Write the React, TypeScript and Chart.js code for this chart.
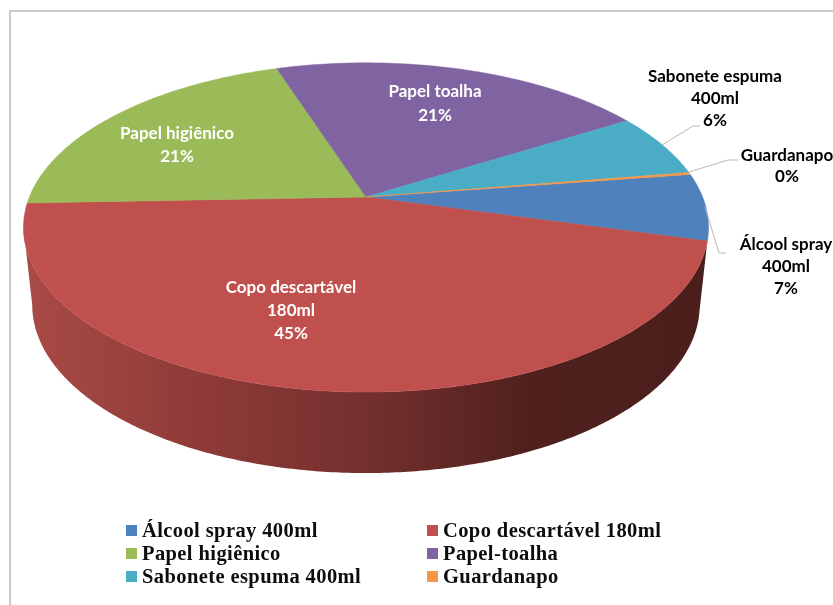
import React, { useEffect, useRef } from "react";
import { Chart, registerables } from "chart.js";

Chart.register(...registerables);

const categories = [
  "Álcool spray 400ml",
  "Copo descartável 180ml",
  "Papel higiênico",
  "Papel-toalha",
  "Sabonete espuma 400ml",
  "Guardanapo",
];
const shares = [6.6, 45.3, 20.6, 21.3, 6.3, 0.2];
const sliceColors = ["#4f81bd", "#c0504d", "#9bbb59", "#8064a2", "#4bacc6", "#f79646"];

// Text lines of each slice caption; the percentage is appended from the data.
const captionLines = [
  ["Álcool spray", "400ml"],
  ["Copo descartável", "180ml"],
  ["Papel higiênico"],
  ["Papel toalha"],
  ["Sabonete espuma", "400ml"],
  ["Guardanapo"],
];
const captionColors = ["#000", "#fff", "#fff", "#fff", "#000", "#000"];
const captionCenters = [
  [786, 245],
  [291, 288],
  [177, 134],
  [435, 92],
  [715, 77],
  [787, 156],
];
const captionLineHeights = [22, 23, 23, 24, 22, 21];
const leaderLines = [
  { slice: 0, points: [[705, 207], [719, 253], [726, 253]] },
  { slice: 4, points: [[662, 145], [693, 126], [700, 126]] },
  { slice: 5, points: [[689, 172], [728, 160], [738, 160]] },
];

const legendColumns = [126, 427];
const legendRows = [530, 553, 576];

// Perspective disc: top face and the lower rim of the pie.
const TILT = 0.185;
const topFace = { cx: 366, cy: 197, rx: 336.6, ry: 159 };
const rimFace = { cx: 366, cy: 273.9, rx: 328, ry: 162.3 };
const WALL_FROM = (15 * Math.PI) / 180;
const WALL_TO = Math.PI - Math.asin(TILT);

type Face = typeof topFace;

function project(face: Face, angle: number): [number, number] {
  const x = Math.cos(angle);
  const y = Math.sin(angle);
  const w = 1 - TILT * y;
  return [face.cx + (face.rx * x) / w, face.cy + (face.ry * y) / w];
}

function arcPoints(face: Face, from: number, to: number): [number, number][] {
  const steps = Math.max(2, Math.ceil(Math.abs(to - from) / 0.01));
  const pts: [number, number][] = [];
  for (let i = 0; i <= steps; i++) {
    pts.push(project(face, from + ((to - from) * i) / steps));
  }
  return pts;
}

const tiltedPie = {
  id: "tiltedPie",
  beforeDraw(chart: any) {
    const { ctx, width, height } = chart;
    ctx.save();
    ctx.fillStyle = "#fff";
    ctx.fillRect(0, 0, width, height);
    ctx.strokeStyle = "#cbcbcb";
    ctx.lineWidth = 2;
    ctx.beginPath();
    ctx.moveTo(width, 11);
    ctx.lineTo(10, 11);
    ctx.lineTo(10, height);
    ctx.stroke();
    ctx.restore();
  },
  beforeDatasetsDraw(chart: any) {
    const { ctx } = chart;
    const arcs = chart.getDatasetMeta(0).data;
    const norm = (a: number) => {
      const t = Math.PI * 2;
      return ((a % t) + t) % t;
    };
    ctx.save();

    // Side wall of whichever slices face the viewer
    arcs.forEach((arc: any) => {
      const start = norm(arc.startAngle);
      const end = start + (arc.endAngle - arc.startAngle);
      const from = Math.max(start, WALL_FROM);
      const to = Math.min(end, WALL_TO);
      if (to <= from) return;
      const top = arcPoints(topFace, from, to);
      const rim = arcPoints(rimFace, to, from);
      const shade = ctx.createLinearGradient(30, 0, 700, 0);
      shade.addColorStop(0, "#a84a46");
      shade.addColorStop(0.25, "#8f3b38");
      shade.addColorStop(0.5, "#74302e");
      shade.addColorStop(0.75, "#4f201e");
      shade.addColorStop(1, "#4b1e1c");
      ctx.fillStyle = shade;
      ctx.beginPath();
      [...top, ...rim].forEach(([x, y], i) => (i ? ctx.lineTo(x, y) : ctx.moveTo(x, y)));
      ctx.closePath();
      ctx.fill();
    });

    // Top face
    arcs.forEach((arc: any, i: number) => {
      const pts = arcPoints(topFace, arc.startAngle, arc.endAngle);
      ctx.fillStyle = sliceColors[i];
      ctx.strokeStyle = sliceColors[i];
      ctx.lineWidth = 0.5;
      ctx.beginPath();
      ctx.moveTo(topFace.cx, topFace.cy);
      pts.forEach(([x, y]) => ctx.lineTo(x, y));
      ctx.closePath();
      ctx.fill();
      ctx.stroke();
    });
    ctx.restore();
    return false;
  },
  afterDraw(chart: any) {
    const { ctx } = chart;
    const total = shares.reduce((a, b) => a + b, 0);
    ctx.save();

    ctx.strokeStyle = "#b9b9b9";
    ctx.lineWidth = 1;
    leaderLines.forEach(({ points }) => {
      ctx.beginPath();
      points.forEach(([x, y], i) => (i ? ctx.lineTo(x, y) : ctx.moveTo(x, y)));
      ctx.stroke();
    });

    ctx.font = "bold 17px Lato";
    ctx.textAlign = "center";
    ctx.textBaseline = "middle";
    captionLines.forEach((lines, i) => {
      const [cx, cy] = captionCenters[i];
      ctx.fillStyle = captionColors[i];
      [...lines, `${Math.round((shares[i] / total) * 100)}%`].forEach((text, row) => {
        ctx.fillText(text, cx, cy + row * captionLineHeights[i]);
      });
    });

    ctx.textAlign = "left";
    ctx.textBaseline = "alphabetic";
    ctx.font = "bold 20.5px 'Liberation Serif'";
    ctx.letterSpacing = "0.4px";
    categories.forEach((name, i) => {
      const x = legendColumns[i % 2];
      const y = legendRows[Math.floor(i / 2)];
      ctx.fillStyle = sliceColors[i];
      ctx.fillRect(x, y - 5, 11, 11);
      ctx.fillStyle = "#0d0d0d";
      ctx.fillText(name, x + 16, y + 7);
    });
    ctx.restore();
  },
};

export default function App() {
  const canvasRef = useRef<HTMLCanvasElement>(null);

  useEffect(() => {
    const chart = new Chart(canvasRef.current!, {
      type: "pie",
      data: {
        labels: categories,
        datasets: [{ data: shares, backgroundColor: sliceColors, borderWidth: 0 }],
      },
      options: {
        responsive: false,
        animation: false,
        rotation: 81.6,
        plugins: { legend: { display: false }, tooltip: { enabled: false } },
      },
      plugins: [tiltedPie],
    });
    return () => chart.destroy();
  }, []);

  return (
    <canvas
      ref={canvasRef}
      width={833}
      height={605}
      style={{ position: "fixed", left: 0, top: 0, display: "block" }}
    />
  );
}
